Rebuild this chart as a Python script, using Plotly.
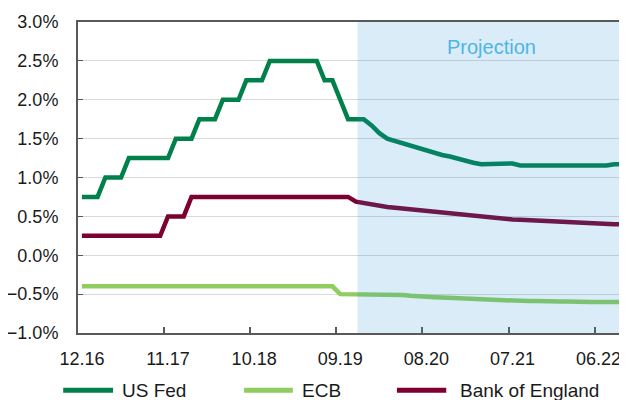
import plotly.graph_objects as go

# monthly observations 12.16 .. 09.22, policy rates in %
months = list(range(70))
tick_idx = [0, 11, 22, 33, 44, 55, 66]
tick_text = ["12.16", "11.17", "10.18", "09.19", "08.20", "07.21", "06.22"]

us_fed = ([0.75] * 3 + [1.00] * 3 + [1.25] * 6 + [1.50] * 3 + [1.75] * 3 + [2.00] * 3
          + [2.25] * 3 + [2.50] * 7 + [2.25] * 2 + [2.00] + [1.75] * 3
          + [1.67, 1.57, 1.50, 1.47, 1.43, 1.40, 1.37, 1.34, 1.31, 1.29, 1.27, 1.24,
             1.21, 1.19, 1.17, 1.17, 1.17, 1.17, 1.18, 1.155, 1.155, 1.155, 1.155, 1.155,
             1.155, 1.155, 1.155, 1.155, 1.155, 1.155, 1.155, 1.17, 1.17])

ecb = ([-0.40] * 33 + [-0.50] * 8
       + [-0.51, -0.52, -0.53, -0.535, -0.54, -0.545, -0.55, -0.555, -0.56, -0.565,
          -0.57, -0.575, -0.58, -0.58, -0.585, -0.59, -0.59, -0.59, -0.595, -0.595,
          -0.595, -0.595, -0.60, -0.60, -0.60, -0.60, -0.60, -0.60, -0.60])

boe = ([0.25] * 11 + [0.50] * 3 + [0.75] * 21
       + [0.69, 0.67, 0.65, 0.63, 0.62, 0.61, 0.60, 0.58, 0.57, 0.56, 0.55, 0.54,
          0.53, 0.52, 0.51, 0.50, 0.49, 0.48, 0.475, 0.47, 0.46, 0.455, 0.45, 0.44,
          0.44, 0.435, 0.43, 0.43, 0.425, 0.42, 0.415, 0.41, 0.405, 0.40, 0.40])

projection_start = 35.2

series = [("US Fed", us_fed, "#00804a"),
          ("ECB", ecb, "#8fcd5f"),
          ("Bank of England", boe, "#7c0030")]

FONT = "Liberation Sans, Arial, sans-serif"

fig = go.Figure()
for name, vals, col in series:
    fig.add_trace(go.Scatter(x=months, y=vals, name=name, mode="lines",
                             line=dict(color=col, width=4.5), showlegend=False))

# shaded projection window, drawn on top like the original
fig.add_shape(type="rect", xref="x", yref="paper", x0=projection_start, x1=69.5,
              y0=0, y1=1, fillcolor="rgba(30,145,215,0.17)", line_width=0, layer="above")
fig.add_annotation(x=(projection_start + 69.5) / 2, y=2.68, xref="x", yref="y",
                   text="Projection", showarrow=False, yanchor="middle",
                   font=dict(family=FONT, size=20, color="#4fb4e8"))

# hand-made legend below the axis
leg_y = -0.184
legend_pos = [(-0.027, 0.064, 0.077), (0.303, 0.392, 0.405), (0.582, 0.672, 0.693)]
for (name, _, col), (x0, x1, xt) in zip(series, legend_pos):
    fig.add_shape(type="line", xref="paper", yref="paper", x0=x0, x1=x1,
                  y0=leg_y, y1=leg_y, line=dict(color=col, width=5))
    fig.add_annotation(x=xt, y=leg_y, xref="paper", yref="paper", text=name,
                       showarrow=False, xanchor="left", yanchor="middle",
                       font=dict(family=FONT, size=19, color="#1a1a1a"))

# page body has an 8px margin, so the figure is 8px smaller on both axes
fig.update_layout(
    width=619, height=392,
    margin=dict(l=70, r=1, t=14, b=67, autoexpand=False),
    paper_bgcolor="white", plot_bgcolor="white",
    font=dict(family=FONT, size=18, color="#1a1a1a"),
    showlegend=False,
)
fig.update_xaxes(range=[-0.5, 69.5], tickmode="array", tickvals=tick_idx, ticktext=tick_text,
                 ticks="", showgrid=False, zeroline=False, automargin=False,
                 showline=True, linecolor="#595959", linewidth=2, mirror=True,
                 ticklabelstandoff=8,
                 minor=dict(tickmode="array", tickvals=[i - 0.5 for i in tick_idx[1:]],
                            ticks="inside", ticklen=6, tickwidth=2, tickcolor="#595959",
                            showgrid=False))
fig.update_yaxes(range=[-1, 3], dtick=0.5, tickformat=".1f", ticksuffix="%",
                 showgrid=True, gridcolor="#d9d9d9", gridwidth=1, zeroline=False,
                 ticks="inside", ticklen=5, tickcolor="#595959", automargin=False,
                 showline=True, linecolor="#595959", linewidth=2, mirror=True,
                 ticklabelstandoff=14)

fig.write_html("out.html")
